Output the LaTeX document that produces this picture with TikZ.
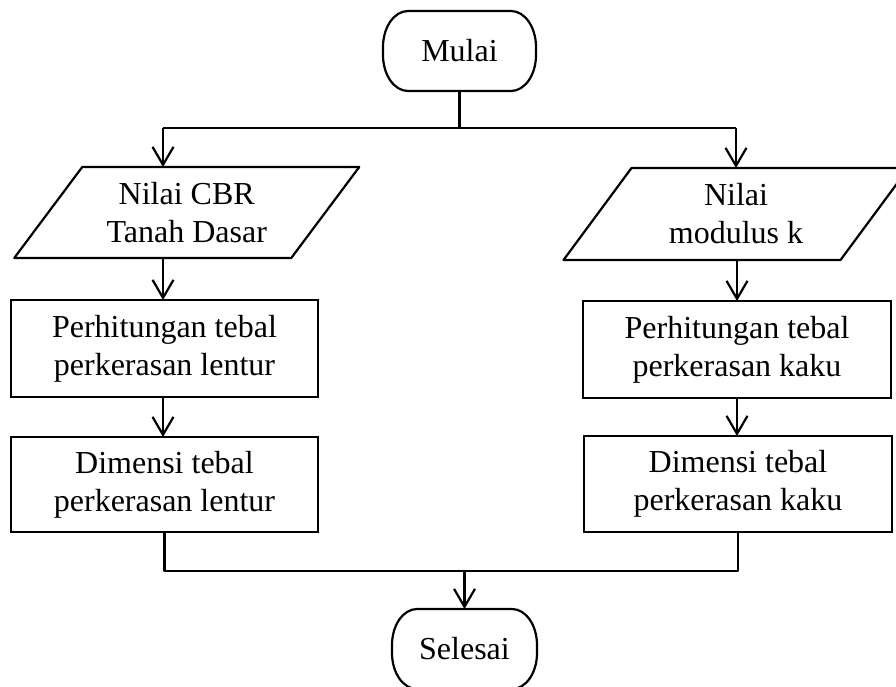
\documentclass[tikz,border=0pt]{standalone}
\usepackage{fontspec}
\setmainfont{Liberation Serif}
\usetikzlibrary{arrows.meta,calc}
\newcommand\termdraw[1]{%
  \draw[line] ($(#1.north west)+(25,0)$) -- ($(#1.north east)+(-25,0)$)
    .. controls ($(#1.north east)+(-11.2,0)$) and ($(#1.north east)+(0,16.1)$) .. ($(#1.north east)+(0,36)$)
    -- ($(#1.south east)+(0,-36)$)
    .. controls ($(#1.south east)+(0,-16.1)$) and ($(#1.south east)+(-11.2,0)$) .. ($(#1.south east)+(-25,0)$)
    -- ($(#1.south west)+(25,0)$)
    .. controls ($(#1.south west)+(11.2,0)$) and ($(#1.south west)+(0,-16.1)$) .. ($(#1.south west)+(0,-36)$)
    -- ($(#1.north west)+(0,36)$)
    .. controls ($(#1.north west)+(0,16.1)$) and ($(#1.north west)+(11.2,0)$) .. ($(#1.north west)+(25,0)$)
    -- cycle;}
\begin{document}
\begin{tikzpicture}[x=1pt,y=-1pt,
  every node/.style={font=\fontsize{32}{38}\selectfont, align=center, inner sep=0pt, outer sep=0pt},
  line/.style={line width=2.2pt, line join=round},
  arr/.style={line width=2.2pt, -{Straight Barb[length=18pt,width=21pt,line width=2.2pt]}},
  term/.style={minimum height=80pt},
  proc/.style={draw, line width=2.2pt},
  io/.style={minimum width=277pt, minimum height=91pt}
]
\useasboundingbox (0,0) rectangle (896,686);

% terminals
\node[term, minimum width=153pt] (start) at (459.5,51) {Mulai};
\termdraw{start}
\node[term, minimum width=145pt] (stop) at (464.5,649) {Selesai};
\termdraw{stop}

% input (parallelogram) nodes
\node[io] (inL) at (186.75,212.5) {Nilai CBR\\Tanah Dasar};
\draw[line] ($(inL.north west)+(34,0)$) -- ($(inL.north east)+(34,0)$) -- ($(inL.south east)+(-34,0)$) -- ($(inL.south west)+(-34,0)$) -- cycle;
\node[io, minimum height=92pt] (inR) at (736,214) {Nilai\\modulus k};
\draw[line] ($(inR.north west)+(34,0)$) -- ($(inR.north east)+(34,0)$) -- ($(inR.south east)+(-34,0)$) -- ($(inR.south west)+(-34,0)$) -- cycle;

% process boxes
\node[proc, minimum width=307pt, minimum height=97pt] (p1L) at (164.5,348.5) {Perhitungan tebal\\perkerasan lentur};
\node[proc, minimum width=307pt, minimum height=95pt] (p2L) at (164.5,484.5) {Dimensi tebal\\perkerasan lentur};
\node[proc, minimum width=308pt, minimum height=97pt] (p1R) at (737,349.5) {Perhitungan tebal\\perkerasan kaku};
\node[proc, minimum width=308pt, minimum height=96pt] (p2R) at (738,484) {Dimensi tebal\\perkerasan kaku};

% top split
\coordinate (busT) at (0,128);
\coordinate (aL) at (163,128);
\coordinate (aR) at (736,128);
\draw[line] (start.south) -- (start.south |- busT);
\draw[line] (aL) -- (aR);
\draw[arr] (aL) -- (aL |- inL.north);
\draw[arr] (aR) -- (aR |- inR.north);

% left column
\draw[arr] (aL |- inL.south) -- (aL |- p1L.north);
\draw[arr] (aL |- p1L.south) -- (aL |- p2L.north);

% right column
\draw[arr] (p1R.north |- inR.south) -- (p1R.north);
\draw[arr] (p1R.south) -- (p1R.south |- p2R.north);

% bottom merge
\coordinate (busB) at (0,571);
\draw[line] (p2L.south) -- (p2L.south |- busB) -- (p2R.south |- busB) -- (p2R.south);
\draw[arr] (stop.north |- busB) -- (stop.north);
\end{tikzpicture}
\end{document}
